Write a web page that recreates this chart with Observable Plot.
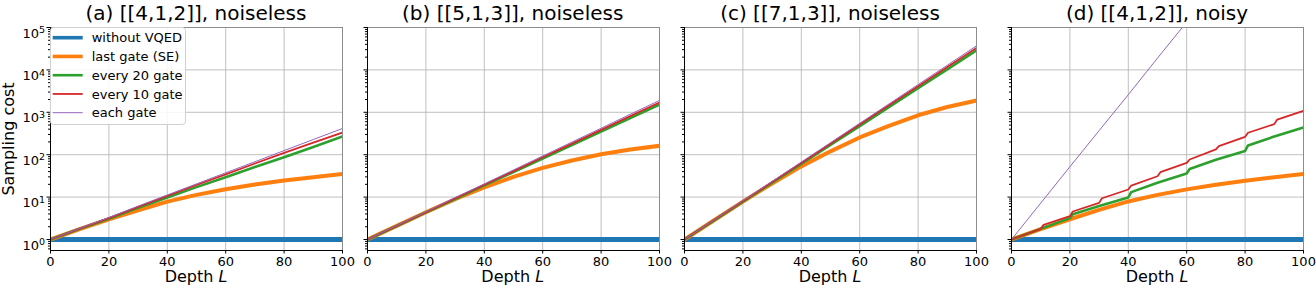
<!DOCTYPE html>
<html><head><meta charset="utf-8">
<script src="https://cdn.jsdelivr.net/npm/d3@7"></script>
<script src="https://cdn.jsdelivr.net/npm/@observablehq/plot@0.6"></script>
<style>
body{margin:0;background:#fff;}
#fig{position:relative;width:1316px;height:291px;font-family:"DejaVu Sans",sans-serif;overflow:hidden;background:#fff;color:#000}
.panel{position:absolute;top:0}
.title{position:absolute;top:3px;width:292px;font-size:20px;line-height:20px;text-align:center;white-space:nowrap}
.xlabel{position:absolute;top:269px;width:292px;font-size:16px;line-height:16px;text-align:center;white-space:nowrap}
.ylabel{position:absolute;left:-91px;top:130.5px;width:200px;font-size:16px;line-height:16px;text-align:center;white-space:nowrap;transform:rotate(-90deg)}
</style>
</head><body>
<div id="fig"></div>
<script>
// ---- data ----
const panelTitles = ["(a) [[4,1,2]], noiseless", "(b) [[5,1,3]], noiseless", "(c) [[7,1,3]], noiseless", "(d) [[4,1,2]], noisy"];
const seriesNames = ["without VQED", "last gate (SE)", "every 20 gate", "every 10 gate", "each gate"];
const xTicks = [0, 20, 40, 60, 80, 100];
const yTickValues = [1, 10, 100, 1000, 10000, 100000];
const yTickBase = "10";
const yTickExponents = ["0", "1", "2", "3", "4", "5"];
const xLabel = "Depth";
const xLabelVar = "L";
const yLabel = "Sampling cost";

const depth = [0, 10, 20, 30, 40, 50, 60, 70, 80, 90, 100];
const withoutVQED = [1, 1, 1, 1, 1, 1, 1, 1, 1, 1, 1];

const aLast    = [1, 1.75, 3.0, 4.9, 7.8, 11.3, 15.3, 19.8, 24.5, 29.5, 35];
const aEvery20 = [1, 1.8, 3.1, 5.6, 9.8, 17.2, 29.5, 51, 87, 152, 269];
const aEvery10 = [1, 1.8, 3.2, 5.9, 10.7, 19.3, 34.5, 62, 110, 193, 333];
const aEach    = [1, 1.83, 3.3, 6.1, 11.2, 20.5, 37.4, 68, 125, 228, 415];

const bLast    = [1, 2.1, 4.4, 8.9, 17, 30, 49, 73, 102, 132, 162];
const bEvery20 = [1, 2.08, 4.35, 9.0, 18.9, 39, 81, 168, 350, 730, 1520];
const bEvery10 = [1, 2.1, 4.4, 9.3, 19.6, 41, 87, 183, 385, 810, 1700];
const bEach    = [1, 2.13, 4.5, 9.7, 20.5, 43.7, 93, 198, 420, 900, 1900];

const cLast    = [1, 2.8, 7.8, 21, 53, 120, 255, 480, 850, 1330, 1900];
const cEvery20 = [1, 2.79, 7.8, 21.8, 61, 170, 470, 1320, 3690, 10300, 28800];
const cEvery10 = [1, 2.83, 8.0, 22.7, 64, 182, 515, 1460, 4120, 11700, 33000];
const cEach    = [1, 2.86, 8.2, 23.4, 67, 192, 550, 1570, 4500, 12900, 37000];

const dLast         = [1, 1.75, 3.0, 5.0, 7.9, 11.3, 15.2, 19.6, 24.3, 29.3, 35];
const dEvery20Depth = [0, 10, 20, 21, 30, 40, 41, 50, 60, 61, 70, 80, 81, 90, 100];
const dEvery20      = [1, 1.78, 3.19, 3.96, 6.2, 9.8, 13.1, 21.7, 36, 46, 76, 123, 165, 269, 437];
const dEvery10Depth = [0, 10, 11, 20, 21, 30, 31, 40, 41, 50, 51, 60, 61, 70, 71, 80, 81, 90, 91, 100];
const dEvery10      = [1, 1.78, 2.22, 3.55, 4.57, 7.3, 9.4, 15.1, 18.7, 31, 38.7, 64, 77, 133, 159, 264, 329, 526, 675, 1080];
const dEachDepth    = [0, 10, 20, 30, 40, 50, 60];
const dEach         = [1, 7.2, 52, 370, 2600, 19000, 135000];

// ---- styles / layout ----
const seriesColors = ["#1f77b4", "#ff7f0e", "#2ca02c", "#d62728", "#9467bd"];
const seriesWidths = [5, 4, 2.6, 1.8, 1];
const panelLefts = [50, 366.7, 684, 1011];
const panelW = 292, ml = 50, mr = 14;
const yDomain = [0.55, 1e5];

const panels = [
  [[depth, withoutVQED], [depth, aLast], [depth, aEvery20], [depth, aEvery10], [depth, aEach]],
  [[depth, withoutVQED], [depth, bLast], [depth, bEvery20], [depth, bEvery10], [depth, bEach]],
  [[depth, withoutVQED], [depth, cLast], [depth, cEvery20], [depth, cEvery10], [depth, cEach]],
  [[depth, withoutVQED], [depth, dLast], [dEvery20Depth, dEvery20], [dEvery10Depth, dEvery10], [dEachDepth, dEach]]
];

const minorTicks = d3.scaleLog().domain(yDomain).ticks().filter(v => !yTickValues.some(t => Math.abs(t - v) < 1e-9));
const fig = document.getElementById("fig");

panels.forEach((series, idx) => {
  const grid = {stroke: "#b0b0b0", strokeOpacity: 1, strokeWidth: 0.8};
  const marks = [
    Plot.gridX(xTicks, grid),
    Plot.gridY(yTickValues, grid)
  ];
  series.forEach(([xs, ys], k) => {
    const rows = xs.map((x, i) => ({x, y: ys[i]}));
    marks.push(Plot.line(rows, {x: "x", y: "y", stroke: seriesColors[k], strokeWidth: seriesWidths[k], clip: true, strokeLinejoin: "round"}));
  });
  marks.push(
    Plot.frame({stroke: "#8c8c8c", strokeWidth: 1}),
    Plot.ruleX([0], {stroke: "black", strokeWidth: 1}),
    Plot.ruleY([yDomain[0]], {stroke: "black", strokeWidth: 1}),
    Plot.axisX(xTicks, {tickSize: 3.5, tickPadding: 3, fontSize: 13, label: null}),
    Plot.axisY(yTickValues, {tickSize: 3.5, tickPadding: 2, fontSize: 13, label: null,
      tickFormat: idx === 0 ? (v => yTickBase + "^" + yTickExponents[yTickValues.indexOf(v)]) : (() => "")}),
    Plot.axisY(minorTicks, {tickSize: 2, label: null, tickFormat: () => ""})
  );
  const svg = Plot.plot({
    width: ml + panelW + mr, height: 291,
    marginLeft: ml, marginRight: mr, marginTop: 27, marginBottom: 41,
    x: {domain: [0, 100]},
    y: {type: "log", domain: yDomain},
    style: {background: "transparent", overflow: "visible", fontFamily: "DejaVu Sans", fontSize: "13px", color: "black", maxWidth: "none"},
    marks
  });
  // render "10^k" labels with a real superscript
  svg.querySelectorAll("text").forEach(t => {
    const s = t.textContent;
    if (s.includes("^") && t.children.length === 0) {
      const [b, e] = s.split("^");
      t.textContent = "";
      t.setAttribute("dy", "0.45em");
      const tb = document.createElementNS("http://www.w3.org/2000/svg", "tspan");
      tb.textContent = b;
      const te = document.createElementNS("http://www.w3.org/2000/svg", "tspan");
      te.textContent = e;
      te.setAttribute("dy", "-0.45em");
      te.setAttribute("font-size", "9.5px");
      t.appendChild(tb); t.appendChild(te);
    }
  });
  const div = document.createElement("div");
  div.className = "panel";
  div.style.left = (panelLefts[idx] - ml) + "px";
  div.appendChild(svg);
  fig.appendChild(div);

  const t = document.createElement("div");
  t.className = "title";
  t.style.left = panelLefts[idx] + "px";
  t.textContent = panelTitles[idx];
  fig.appendChild(t);

  const xl = document.createElement("div");
  xl.className = "xlabel";
  xl.style.left = panelLefts[idx] + "px";
  xl.innerHTML = xLabel + " <i>" + xLabelVar + "</i>";
  fig.appendChild(xl);
});

const yl = document.createElement("div");
yl.className = "ylabel";
yl.textContent = yLabel;
fig.appendChild(yl);

// legend
const lg = d3.select(fig).append("svg")
  .style("position", "absolute").style("left", "50px").style("top", "27px")
  .attr("width", 137).attr("height", 99)
  .style("font-family", "DejaVu Sans").style("font-size", "13px");
lg.append("rect").attr("x", 0.5).attr("y", 0.5).attr("width", 135).attr("height", 97)
  .attr("rx", 3).attr("fill", "white").attr("fill-opacity", 0.85).attr("stroke", "#d0d0d0");
seriesNames.forEach((name, k) => {
  const cy = 10.7 + k * 18.75;
  lg.append("line").attr("x1", 2.7).attr("x2", 32.7).attr("y1", cy).attr("y2", cy)
    .attr("stroke", seriesColors[k]).attr("stroke-width", Math.min(seriesWidths[k], 3.6));
  lg.append("text").attr("x", 41.7).attr("y", cy).attr("dy", "0.35em").text(name);
});
</script>
</body></html>
